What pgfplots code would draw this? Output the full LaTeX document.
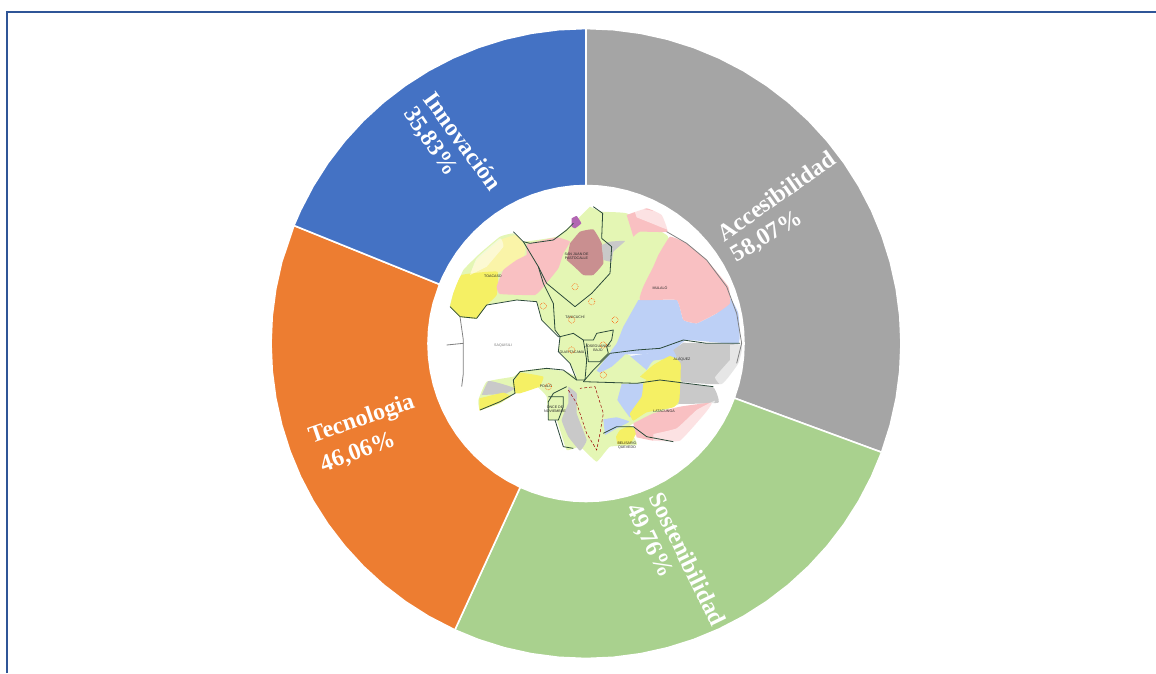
\documentclass[border=0pt]{standalone}
\usepackage{pgfplots}
\usepackage{pgfplotstable}
\usepackage{fontspec}
\setmainfont{Liberation Serif}
\newfontfamily\mapfont{Liberation Sans}
\pgfplotsset{compat=1.18}
\definecolor{cAcc}{HTML}{A5A5A5}
\definecolor{cSos}{HTML}{A9D18E}
\definecolor{cTec}{HTML}{ED7D31}
\definecolor{cInn}{HTML}{4472C4}
\definecolor{frameblue}{HTML}{2F5597}
\definecolor{mapgreen}{HTML}{E4F6B4}
\definecolor{mappink}{HTML}{F9C0C2}
\definecolor{mapmauve}{HTML}{C98F90}
\definecolor{mapblue}{HTML}{BDD0F6}
\definecolor{mapyellow}{HTML}{F5F064}
\definecolor{mappale}{HTML}{FAF4A8}
\definecolor{mapgrey}{HTML}{C9C9C9}
\definecolor{mapline}{HTML}{2C4A3A}
\pgfplotstableread{
a r
90 315
85 315
80 315
75 315
70 315
65 315
60 315
55 315
50 315
45 315
40 315
35 315
30 315
25 315
20 315
15 315
10 315
5 315
0 315
-5 315
-10 315
-15 315
-20.2 315
-20.2 158
-15 158
-10 158
-5 158
0 158
5 158
10 158
15 158
20 158
25 158
30 158
35 158
40 158
45 158
50 158
55 158
60 158
65 158
70 158
75 158
80 158
85 158
90 158
90 315
}\tAcc
\pgfplotstableread{
a r
-20.2 315
-25 315
-30 315
-35 315
-40 315
-45 315
-50 315
-55 315
-60 315
-65 315
-70 315
-75 315
-80 315
-85 315
-90 315
-95 315
-100 315
-105 315
-110 315
-114.6 315
-114.6 158
-110 158
-105 158
-100 158
-95 158
-90 158
-85 158
-80 158
-75 158
-70 158
-65 158
-60 158
-55 158
-50 158
-45 158
-40 158
-35 158
-30 158
-25 158
-20.2 158
-20.2 315
}\tSos
\pgfplotstableread{
a r
-114.6 315
-120 315
-125 315
-130 315
-135 315
-140 315
-145 315
-150 315
-155 315
-160 315
-165 315
-170 315
-175 315
-180 315
-185 315
-190 315
-195 315
-202 315
-202 158
-195 158
-190 158
-185 158
-180 158
-175 158
-170 158
-165 158
-160 158
-155 158
-150 158
-145 158
-140 158
-135 158
-130 158
-125 158
-120 158
-114.6 158
-114.6 315
}\tTec
\pgfplotstableread{
a r
-202 315
-205 315
-210 315
-215 315
-220 315
-225 315
-230 315
-235 315
-240 315
-245 315
-250 315
-255 315
-260 315
-265 315
-270 315
-270 158
-265 158
-260 158
-255 158
-250 158
-245 158
-240 158
-235 158
-230 158
-225 158
-220 158
-215 158
-210 158
-205 158
-202 158
-202 315
}\tInn
\pgfplotsset{
 wedge/.style={fill=#1,draw=white,line width=1.6pt,line join=round,no markers},
 zoomed/.style={x filter/.expression={420+x/3},y filter/.expression={180+y/3}},
 blob/.style={zoomed,fill=#1,draw=none,no markers,smooth,tension=0.2},
 bline/.style={zoomed,draw=#1,line width=0.8pt,no markers,line join=round},
}
\tikzset{
 lab/.style={font=\fontsize{24}{24}\selectfont\bfseries,text=white,anchor=center,inner sep=0pt},
 mlab/.style={font=\mapfont\fontsize{3.6}{4}\selectfont,text=black!85,align=center,inner sep=0pt},
}
\begin{document}
\begin{tikzpicture}
\useasboundingbox (0,0) rectangle (1156pt,673pt);
\begin{axis}[
 at={(0,0)},anchor=south west,
 scale only axis,width=1156pt,height=673pt,
 xmin=0,xmax=1156,ymin=0,ymax=673,y dir=reverse,
 hide axis,clip=true,
]
% frame
\addplot[frameblue,line width=2pt,no markers] coordinates {(7,673) (7,11.5) (1156,11.5)};
% donut (angle, radius)
\addplot[wedge=cAcc] table[x expr={586+\thisrow{r}*cos(\thisrow{a})},y expr={343.5-\thisrow{r}*sin(\thisrow{a})}] {\tAcc};
\addplot[wedge=cSos] table[x expr={586+\thisrow{r}*cos(\thisrow{a})},y expr={343.5-\thisrow{r}*sin(\thisrow{a})}] {\tSos};
\addplot[wedge=cTec] table[x expr={586+\thisrow{r}*cos(\thisrow{a})},y expr={343.5-\thisrow{r}*sin(\thisrow{a})}] {\tTec};
\addplot[wedge=cInn] table[x expr={586+\thisrow{r}*cos(\thisrow{a})},y expr={343.5-\thisrow{r}*sin(\thisrow{a})}] {\tInn};
% map areas
\addplot[blob=mapgreen] coordinates {(510,80)(545,95)(620,100)(740,165)(755,210)(720,240)(700,340)(680,390)(640,450)(620,520)(640,530)(680,560)(700,540)(770,530)(785,600)(780,670)(640,730)(590,770)(640,770)(650,795)(570,800)(530,845)(480,800)(440,810)(410,720)(385,720)(380,650)(350,620)(285,640)(240,670)(180,690)(175,660)(200,605)(280,590)(300,575)(370,565)(440,575)(470,590)(450,550)(415,510)(420,470)(365,420)(350,365)(290,360)(200,375)(170,415)(120,410)(90,380)(100,340)(130,270)(180,220)(240,170)(280,160)(310,185)(410,170)(460,130)};
\addplot[blob=mappale] coordinates {(170,240)(240,180)(290,165)(315,200)(310,240)(260,265)(230,280)(150,280)};
\addplot[blob=mapyellow] coordinates {(100,340)(125,285)(232,275)(230,345)(200,375)(170,415)(120,410)(90,380)};
\addplot[blob=mappink] coordinates {(320,192)(410,172)(450,185)(430,220)(415,265)(375,315)(345,345)(240,342)(230,320)(250,270)(290,240)(320,225)};
\addplot[blob=mapmauve] coordinates {(450,190)(480,155)(520,148)(545,190)(550,250)(520,285)(490,285)(465,262)(440,240)};
\addplot[blob=mapgrey] coordinates {(545,195)(570,185)(615,183)(580,215)(575,245)(550,240)};
\addplot[blob=mappink] coordinates {(620,105)(680,85)(725,105)(742,155)(660,155)(640,170)};
\addplot[blob=mapblue] coordinates {(655,360)(770,360)(790,420)(830,430)(890,400)(930,355)(955,400)(955,490)(800,480)(760,512)(670,522)(570,522)(590,490)(610,440)};
\addplot[blob=mappink] coordinates {(715,225)(750,170)(800,190)(860,240)(925,320)(930,370)(890,400)(830,430)(790,420)(770,360)(660,360)(670,320)(700,260)};
\addplot[blob=mapblue] coordinates {(530,572)(570,520)(615,522)(575,560)(540,578)};
\addplot[blob=mapblue] coordinates {(630,528)(760,508)(795,490)(770,532)(700,542)(680,570)};
\addplot[blob=mapblue] coordinates {(605,612)(675,612)(655,680)(630,712)(592,660)};
\addplot[blob=mapblue] coordinates {(550,718)(590,712)(628,725)(590,745)(555,765)};
\addplot[blob=mapgrey] coordinates {(790,488)(850,490)(965,495)(955,550)(905,612)(785,605)(780,570)(770,530)(760,510)};
\addplot[blob=mapgrey] coordinates {(780,608)(880,622)(895,668)(775,672)};
\addplot[blob=mapgrey] coordinates {(185,645)(205,603)(240,610)(285,625)(255,642)};
\addplot[blob=mapgrey] coordinates {(445,620)(470,640)(470,700)(500,780)(480,812)(445,770)(425,720)(445,670)};
\addplot[blob=mapyellow] coordinates {(660,590)(700,555)(750,528)(782,550)(778,660)(760,682)(680,697)(640,722)(630,700)(665,650)(670,610)(680,600)};
\addplot[blob=mapyellow] coordinates {(278,610)(300,578)(370,590)(358,620)(300,640)(285,640)};
\addplot[blob=mapyellow] coordinates {(178,655)(250,638)(272,650)(230,672)(178,692)};
\addplot[blob=mapyellow] coordinates {(588,770)(600,750)(630,738)(652,752)(630,792)(592,792)};
\addplot[blob=mappink] coordinates {(640,730)(700,700)(780,680)(875,668)(855,700)(780,782)(700,782)(650,772)};
\addplot[blob=violet!60] coordinates {(455,115)(470,108)(484,130)(465,145)(455,140)};
% soft edges of the map
\addplot[blob=white,fill opacity=0.55] coordinates {(640,82)(730,100)(748,150)(695,130)(650,112)};
\addplot[blob=white,fill opacity=0.55] coordinates {(700,785)(785,785)(860,705)(885,662)(830,690)(770,745)(700,762)};
\addplot[blob=white,fill opacity=0.55] coordinates {(930,495)(970,495)(958,555)(905,615)(885,592)(930,540)};
\addplot[blob=white,fill opacity=0.5] coordinates {(150,285)(170,235)(240,175)(250,200)(200,260)};
% map boundaries
\addplot[bline=mapline] coordinates {(90,380)(120,410)(170,415)(200,375)(290,360)(350,365)(365,420)(415,470)(420,470)};
\addplot[bline=mapline] coordinates {(280,155)(310,185)(330,190)(400,180)(440,150)(460,130)};
\addplot[bline=mapline] coordinates {(310,185)(355,260)(370,310)(400,370)(405,450)(420,470)};
\addplot[bline=mapline] coordinates {(355,260)(380,310)(465,380)(515,340)(570,280)(575,200)(545,175)(548,100)(520,80)};
\addplot[bline=mapline] coordinates {(420,470)(460,460)(490,480)(520,480)(530,460)(580,450)(575,480)(560,500)(565,520)(540,545)(505,545)(500,490)};
\addplot[bline=mapline] coordinates {(420,470)(415,515)(450,550)(470,600)(495,600)(500,540)(490,480)};
\addplot[bline=mapline] coordinates {(490,605)(520,570)(570,520)(650,510)(720,505)(790,480)(860,490)(960,490)};
\addplot[bline=mapline] coordinates {(490,605)(650,610)(720,600)(800,610)(880,620)};
\addplot[bline=mapline] coordinates {(470,600)(430,570)(380,565)(300,575)(280,600)(285,640)(240,665)(180,690)};
\addplot[bline=mapline] coordinates {(440,620)(400,640)(385,665)(385,720)(415,720)(430,680)(430,650)(385,650)};
\addplot[bline=mapline] coordinates {(405,720)(430,800)(460,805)};
\addplot[bline=mapline] coordinates {(550,760)(590,740)(640,740)(680,770)(760,785)};
\addplot[bline=gray] coordinates {(120,410)(130,480)(130,580)(125,620)};
\addplot[bline=gray] coordinates {(80,495)(130,490)};
\addplot[bline=gray] coordinates {(740,155)(800,190)(860,240)(920,320)(950,400)(965,490)(950,550)};
\addplot[zoomed,draw=red!60!black,line width=0.5pt,densely dashed,no markers] coordinates {(445,630)(470,670)(500,760)(530,810)(540,760)(550,700)(525,620)(480,625)};
\addplot[zoomed,only marks,mark=o,mark size=3.2pt,mark options={draw=orange!70!red,line width=0.6pt,densely dotted}] coordinates {(465,320)(370,378)(515,365)(455,420)(585,420)(550,585)(455,510)(385,620)(550,495)};
% map names
\node[mlab,text=black!55] at (axis cs:503,345.5) {SAQUISILI};
\node[mlab] at (axis cs:576.5,256) {SAN JUAN DE\\PASTOCALLE};
\node[mlab] at (axis cs:493,276) {TOACASO};
\node[mlab] at (axis cs:660,288) {MULALÓ};
\node[mlab] at (axis cs:575,317) {TANICUCHÍ};
\node[mlab] at (axis cs:572,352) {GUAYTACAMA};
\node[mlab] at (axis cs:598,348) {JOSEGUANGO\\BAJO};
\node[mlab] at (axis cs:682,359) {ALÁQUEZ};
\node[mlab] at (axis cs:664,411) {LATACUNGA};
\node[mlab] at (axis cs:546,386) {POALÓ};
\node[mlab] at (axis cs:555,409) {ONCE DE\\NOVIEMBRE};
\node[mlab] at (axis cs:627,446) {BELISARIO\\QUEVEDO};
% slice labels
\node[lab,rotate=35] at (axis cs:776,196) {Accesibilidad};
\node[lab,rotate=31] at (axis cs:767,237) {58,07\%};
\node[lab,rotate=-64] at (axis cs:688,559) {Sostenibilidad};
\node[lab,rotate=-64] at (axis cs:649,541) {49,76\%};
\node[lab,rotate=19] at (axis cs:362,420) {Tecnologia};
\node[lab,rotate=20] at (axis cs:358,453) {46,06\%};
\node[lab,rotate=-54] at (axis cs:463,141) {Innovación};
\node[lab,rotate=-56] at (axis cs:430,142) {35,83\%};
\end{axis}
\end{tikzpicture}
\end{document}
